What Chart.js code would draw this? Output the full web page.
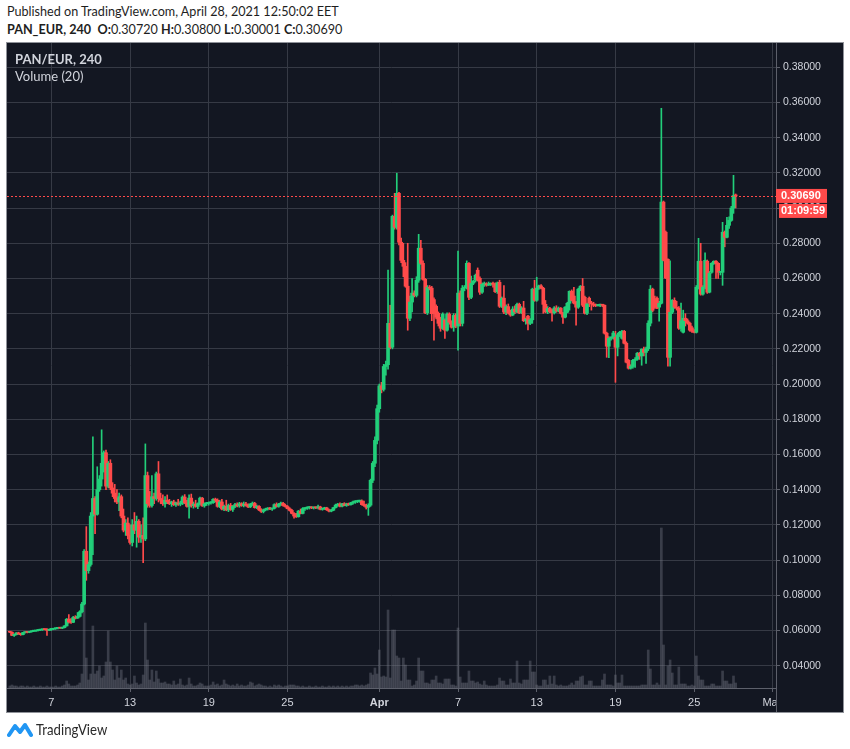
<!DOCTYPE html>
<html>
<head>
<meta charset="utf-8">
<script src="https://cdn.jsdelivr.net/npm/chart.js@4/dist/chart.umd.min.js"></script>
<style>
  body { margin: 0; width: 850px; height: 749px; background: #fff; position: relative; overflow: hidden; font-family: Lato, "Liberation Sans", sans-serif; }
  #chart { position: absolute; left: 0; top: 0; }
  .hdr { position: absolute; left: 7px; font-size: 14px; color: #1e1e1e; white-space: nowrap; transform-origin: left top; transform: scaleX(0.9); }
  .legend { position: absolute; left: 15px; font-size: 13px; color: #d1d4dc; white-space: nowrap; }
  #brand { position: absolute; left: 7px; top: 720px; display: flex; align-items: center; }
  #brand span { font-size: 15px; color: #2a2a2a; margin-left: 3px; transform-origin: left center; transform: scaleX(0.88); display: inline-block; }
</style>
</head>
<body>
<div class="hdr" style="top:2px">Published on TradingView.com, April 28, 2021 12:50:02 EET</div>
<div class="hdr" style="top:20px"><b>PAN_EUR, 240</b>&nbsp; <b>O:</b>0.30720 <b>H:</b>0.30800 <b>L:</b>0.30001 <b>C:</b>0.30690</div>
<canvas id="chart" width="850" height="749"></canvas>
<div class="legend" style="top:51px"><b>PAN/EUR, 240</b></div>
<div class="legend" style="top:68px">Volume (20)</div>
<div id="brand">
  <svg width="26" height="18" viewBox="0 0 26 18">
    <path d="M2 15 L8 6 L13 12 L18 5 L24 15" fill="none" stroke="#2196f3" stroke-width="4" stroke-linejoin="round" stroke-linecap="round"/>
  </svg>
  <span>TradingView</span>
</div>
<script>
// Nến 4 giờ, nến đầu tiên lúc 3/3 20:00 (tính theo số ngày kể từ 1/3)
const firstBarDay = 2 + 20 / 24;
const barDays = 4 / 24;

const opens = [
  0.0592,
  0.0590,0.0572,0.0576,0.0586,0.0580,0.0576,
  0.0588,0.0590,0.0589,0.0593,0.0596,0.0597,
  0.0600,0.0602,0.0604,0.0606,0.0605,0.0601,
  0.0606,0.0607,0.0610,0.0612,0.0614,0.0613,
  0.0616,0.0626,0.0664,0.0648,0.0646,0.0674,
  0.0670,0.0680,0.0706,0.0750,0.1050,0.0940,
  0.0975,0.1250,0.1350,0.1260,0.1400,0.1460,
  0.1550,0.1610,0.1420,0.1550,0.1410,0.1380,
  0.1350,0.1330,0.1360,0.1250,0.1170,0.1210,
  0.1140,0.1100,0.1200,0.1170,0.1220,0.1130,
  0.1140,0.1120,0.1480,0.1320,0.1310,0.1360,
  0.1350,0.1490,0.1350,0.1340,0.1320,0.1340,
  0.1330,0.1320,0.1330,0.1315,0.1325,0.1318,
  0.1322,0.1358,0.1325,0.1305,0.1352,0.1310,
  0.1318,0.1305,0.1320,0.1352,0.1308,0.1320,
  0.1322,0.1325,0.1326,0.1345,0.1340,0.1305,
  0.1330,0.1290,0.1305,0.1285,0.1310,0.1288,
  0.1305,0.1315,0.1308,0.1320,0.1310,0.1318,
  0.1312,0.1302,0.1318,0.1322,0.1298,0.1305,
  0.1285,0.1276,0.1285,0.1290,0.1293,0.1290,
  0.1294,0.1315,0.1305,0.1318,0.1322,0.1310,
  0.1304,0.1292,0.1282,0.1265,0.1250,0.1246,
  0.1278,0.1265,0.1292,0.1295,0.1298,0.1300,
  0.1296,0.1299,0.1297,0.1302,0.1288,0.1292,
  0.1296,0.1285,0.1278,0.1283,0.1298,0.1312,
  0.1318,0.1306,0.1320,0.1310,0.1318,0.1315,
  0.1325,0.1330,0.1332,0.1335,0.1336,0.1315,
  0.1310,0.1300,0.1312,0.1453,0.1550,0.1680,
  // April
  0.1860,0.1990,0.1970,0.2100,0.2110,0.2345,
  0.2209,0.2953,0.2891,0.3084,0.2806,0.2703,
  0.2669,0.2556,0.2374,0.2466,0.2517,0.2504,
  0.2590,0.2772,0.2686,0.2595,0.2405,0.2550,
  0.2545,0.2480,0.2442,0.2402,0.2374,0.2317,
  0.2363,0.2306,0.2397,0.2351,0.2323,0.2390,
  0.2330,0.2517,0.2345,0.2545,0.2550,0.2686,
  0.2493,0.2573,0.2590,0.2647,0.2601,0.2522,
  0.2567,0.2570,0.2562,0.2567,0.2568,0.2567,0.2525,
  0.2578,0.2442,0.2488,0.2409,0.2440,0.2403,
  0.2392,0.2426,0.2410,0.2453,0.2405,0.2432,
  0.2360,0.2386,0.2345,0.2365,0.2539,0.2476,
  0.2545,0.2558,0.2545,0.2453,0.2410,0.2430,
  0.2420,0.2405,0.2432,0.2415,0.2431,0.2402,
  0.2380,0.2408,0.2459,0.2527,0.2500,0.2465,
  0.2437,0.2533,0.2556,0.2493,0.2402,0.2488,
  0.2460,0.2455,0.2448,0.2446,0.2448,0.2450,
  0.2448,0.2289,0.2215,0.2260,0.2262,0.2266,
  0.2209,0.2280,0.2260,0.2300,0.2232,0.2135,
  0.2090,0.2100,0.2135,0.2141,0.2175,0.2160,
  0.2198,0.2180,0.2200,0.2346,0.2539,0.2480,
  0.2488,0.2437,0.2459,0.3034,0.2863,0.2709,
  0.2152,0.2408,0.2476,0.2437,0.2431,0.2317,
  0.2294,0.2374,0.2360,0.2346,0.2320,0.2300,
  0.2294,0.2550,0.2698,0.2511,0.2550,0.2698,
  0.2522,0.2635,0.2686,0.2698,0.2686,0.2635,
  0.2635,0.2863,0.2834,0.2902,0.2930,0.3000,
  0.3072
];

const highs = [
  0.0594,
  0.0592,0.0580,0.0588,0.0590,0.0584,0.0590,
  0.0592,0.0594,0.0595,0.0597,0.0599,0.0601,
  0.0604,0.0606,0.0608,0.0609,0.0610,0.0608,
  0.0609,0.0612,0.0614,0.0616,0.0618,0.0618,
  0.0628,0.0668,0.0690,0.0668,0.0680,0.0684,
  0.0702,0.0712,0.0760,0.1060,0.1190,0.0990,
  0.1270,0.1700,0.1360,0.1530,0.1480,0.1740,
  0.1620,0.1625,0.1560,0.1570,0.1440,0.1430,
  0.1400,0.1380,0.1370,0.1290,0.1230,0.1240,
  0.1200,0.1230,0.1270,0.1250,0.1230,0.1200,
  0.1240,0.1660,0.1500,0.1390,0.1480,0.1380,
  0.1500,0.1560,0.1380,0.1370,0.1360,0.1370,
  0.1345,0.1335,0.1340,0.1330,0.1345,0.1335,
  0.1365,0.1372,0.1340,0.1370,0.1375,0.1330,
  0.1340,0.1325,0.1358,0.1356,0.1325,0.1328,
  0.1330,0.1332,0.1350,0.1352,0.1348,0.1340,
  0.1345,0.1312,0.1340,0.1318,0.1322,0.1310,
  0.1322,0.1325,0.1328,0.1326,0.1330,0.1328,
  0.1320,0.1322,0.1330,0.1328,0.1312,0.1310,
  0.1292,0.1290,0.1295,0.1298,0.1300,0.1296,
  0.1320,0.1325,0.1322,0.1330,0.1328,0.1318,
  0.1310,0.1298,0.1288,0.1270,0.1265,0.1282,
  0.1290,0.1298,0.1298,0.1302,0.1305,0.1304,
  0.1302,0.1303,0.1312,0.1306,0.1296,0.1300,
  0.1300,0.1290,0.1288,0.1300,0.1318,0.1322,
  0.1325,0.1322,0.1326,0.1323,0.1324,0.1328,
  0.1335,0.1338,0.1340,0.1340,0.1342,0.1335,
  0.1318,0.1320,0.1460,0.1560,0.1700,0.1880,
  // April
  0.2000,0.2010,0.2112,0.2130,0.2647,0.2448,
  0.2960,0.3084,0.3198,0.3090,0.2830,0.2800,
  0.2690,0.2800,0.2500,0.2600,0.2530,0.2610,
  0.2851,0.2817,0.2700,0.2600,0.2560,0.2560,
  0.2555,0.2490,0.2450,0.2410,0.2380,0.2405,
  0.2370,0.2405,0.2405,0.2360,0.2400,0.2400,
  0.2755,0.2530,0.2560,0.2560,0.2700,0.2690,
  0.2613,0.2590,0.2625,0.2660,0.2610,0.2575,
  0.2580,0.2576,0.2580,0.2575,0.2580,0.2575,0.2580,
  0.2590,0.2495,0.2560,0.2450,0.2455,0.2420,
  0.2440,0.2445,0.2460,0.2460,0.2440,0.2470,
  0.2375,0.2390,0.2372,0.2545,0.2590,0.2607,
  0.2562,0.2565,0.2550,0.2475,0.2440,0.2436,
  0.2425,0.2440,0.2445,0.2438,0.2435,0.2408,
  0.2440,0.2465,0.2530,0.2535,0.2550,0.2470,
  0.2545,0.2560,0.2600,0.2500,0.2460,0.2495,
  0.2470,0.2465,0.2455,0.2452,0.2455,0.2452,
  0.2450,0.2295,0.2270,0.2270,0.2300,0.2300,
  0.2290,0.2300,0.2305,0.2305,0.2240,0.2140,
  0.2110,0.2140,0.2150,0.2180,0.2180,0.2200,
  0.2210,0.2210,0.2360,0.2560,0.2545,0.2500,
  0.2495,0.2470,0.3567,0.3040,0.2870,0.2712,
  0.2700,0.2480,0.2490,0.2470,0.2440,0.2460,
  0.2420,0.2400,0.2370,0.2352,0.2330,0.2310,
  0.2560,0.2828,0.2800,0.2560,0.2745,0.2705,
  0.2640,0.2690,0.2700,0.2702,0.2690,0.2640,
  0.2919,0.2870,0.2947,0.2950,0.3010,0.3186,
  0.3080
];

const lows = [
  0.0588,
  0.0570,0.0566,0.0574,0.0578,0.0572,0.0575,
  0.0584,0.0586,0.0587,0.0590,0.0593,0.0595,
  0.0597,0.0599,0.0600,0.0603,0.0572,0.0599,
  0.0600,0.0604,0.0606,0.0609,0.0611,0.0610,
  0.0614,0.0624,0.0642,0.0640,0.0644,0.0665,
  0.0668,0.0676,0.0700,0.0745,0.0885,0.0925,
  0.0965,0.1030,0.1150,0.1255,0.1390,0.1420,
  0.1500,0.1400,0.1410,0.1400,0.1360,0.1330,
  0.1320,0.1280,0.1240,0.1160,0.1140,0.1120,
  0.1090,0.1080,0.1150,0.1073,0.1100,0.1100,
  0.0985,0.1110,0.1300,0.1300,0.1300,0.1320,
  0.1340,0.1330,0.1320,0.1310,0.1300,0.1320,
  0.1315,0.1305,0.1310,0.1305,0.1310,0.1308,
  0.1315,0.1320,0.1300,0.1238,0.1300,0.1295,
  0.1300,0.1292,0.1315,0.1305,0.1300,0.1310,
  0.1312,0.1318,0.1322,0.1330,0.1300,0.1298,
  0.1285,0.1280,0.1280,0.1275,0.1282,0.1276,
  0.1298,0.1302,0.1300,0.1305,0.1302,0.1306,
  0.1298,0.1298,0.1310,0.1295,0.1292,0.1280,
  0.1270,0.1268,0.1280,0.1284,0.1286,0.1282,
  0.1290,0.1300,0.1300,0.1310,0.1306,0.1300,
  0.1290,0.1278,0.1262,0.1238,0.1242,0.1244,
  0.1262,0.1262,0.1282,0.1288,0.1290,0.1292,
  0.1290,0.1292,0.1290,0.1285,0.1283,0.1287,
  0.1282,0.1274,0.1274,0.1280,0.1295,0.1305,
  0.1302,0.1302,0.1308,0.1305,0.1310,0.1312,
  0.1318,0.1322,0.1326,0.1328,0.1312,0.1305,
  0.1290,0.1254,0.1305,0.1440,0.1530,0.1660,
  // April
  0.1840,0.1950,0.1960,0.2050,0.2084,0.2200,
  0.2200,0.2880,0.2880,0.2790,0.2690,0.2610,
  0.2550,0.2306,0.2360,0.2410,0.2495,0.2495,
  0.2578,0.2680,0.2590,0.2400,0.2395,0.2535,
  0.2360,0.2249,0.2370,0.2330,0.2300,0.2310,
  0.2260,0.2300,0.2340,0.2318,0.2300,0.2320,
  0.2192,0.2330,0.2330,0.2530,0.2540,0.2480,
  0.2485,0.2565,0.2580,0.2585,0.2510,0.2515,
  0.2555,0.2556,0.2560,0.2560,0.2550,0.2520,0.2515,
  0.2435,0.2435,0.2400,0.2395,0.2398,0.2385,
  0.2388,0.2400,0.2405,0.2400,0.2400,0.2355,
  0.2340,0.2307,0.2338,0.2345,0.2470,0.2470,
  0.2538,0.2540,0.2402,0.2405,0.2400,0.2405,
  0.2357,0.2398,0.2408,0.2410,0.2398,0.2345,
  0.2376,0.2405,0.2420,0.2472,0.2455,0.2334,
  0.2430,0.2530,0.2440,0.2398,0.2395,0.2440,
  0.2420,0.2440,0.2440,0.2443,0.2440,0.2440,
  0.2284,0.2152,0.2150,0.2250,0.2255,0.2010,
  0.2160,0.2270,0.2255,0.2228,0.2120,0.2085,
  0.2085,0.2090,0.2095,0.2135,0.2140,0.2107,
  0.2160,0.2118,0.2190,0.2330,0.2410,0.2430,
  0.2428,0.2357,0.2455,0.2700,0.2600,0.2101,
  0.2101,0.2400,0.2430,0.2420,0.2310,0.2300,
  0.2290,0.2330,0.2340,0.2300,0.2294,0.2290,
  0.2290,0.2540,0.2505,0.2505,0.2540,0.2515,
  0.2518,0.2630,0.2680,0.2600,0.2600,0.2620,
  0.2561,0.2780,0.2830,0.2885,0.2925,0.2970,
  0.3001
];

const closes = [
  0.0590,
  0.0572,0.0576,0.0586,0.0580,0.0576,0.0588,
  0.0590,0.0589,0.0593,0.0596,0.0597,0.0600,
  0.0602,0.0604,0.0606,0.0605,0.0601,0.0606,
  0.0607,0.0610,0.0612,0.0614,0.0613,0.0616,
  0.0626,0.0664,0.0648,0.0646,0.0674,0.0670,
  0.0680,0.0706,0.0750,0.1050,0.0940,0.0975,
  0.1250,0.1350,0.1260,0.1400,0.1460,0.1550,
  0.1610,0.1420,0.1550,0.1410,0.1380,0.1350,
  0.1330,0.1360,0.1250,0.1170,0.1210,0.1140,
  0.1100,0.1200,0.1170,0.1220,0.1130,0.1140,
  0.1120,0.1480,0.1320,0.1310,0.1360,0.1350,
  0.1490,0.1350,0.1340,0.1320,0.1340,0.1330,
  0.1320,0.1330,0.1315,0.1325,0.1318,0.1322,
  0.1358,0.1325,0.1305,0.1352,0.1310,0.1318,
  0.1305,0.1320,0.1352,0.1308,0.1320,0.1322,
  0.1325,0.1326,0.1345,0.1340,0.1305,0.1330,
  0.1290,0.1305,0.1285,0.1310,0.1288,0.1305,
  0.1315,0.1308,0.1320,0.1310,0.1318,0.1312,
  0.1302,0.1318,0.1322,0.1298,0.1305,0.1285,
  0.1276,0.1285,0.1290,0.1293,0.1290,0.1294,
  0.1315,0.1305,0.1318,0.1322,0.1310,0.1304,
  0.1292,0.1282,0.1265,0.1250,0.1246,0.1278,
  0.1265,0.1292,0.1295,0.1298,0.1300,0.1296,
  0.1299,0.1297,0.1302,0.1288,0.1292,0.1296,
  0.1285,0.1278,0.1283,0.1298,0.1312,0.1318,
  0.1306,0.1320,0.1310,0.1318,0.1315,0.1325,
  0.1330,0.1332,0.1335,0.1336,0.1315,0.1310,
  0.1300,0.1312,0.1453,0.1550,0.1680,0.1860,
  // April
  0.1990,0.1970,0.2100,0.2110,0.2345,0.2209,
  0.2953,0.2891,0.3084,0.2806,0.2703,0.2669,
  0.2556,0.2374,0.2466,0.2517,0.2504,0.2590,
  0.2772,0.2686,0.2595,0.2405,0.2550,0.2545,
  0.2400,0.2400,0.2380,0.2345,0.2317,0.2397,
  0.2306,0.2397,0.2351,0.2323,0.2390,0.2330,
  0.2517,0.2345,0.2545,0.2550,0.2686,0.2493,
  0.2573,0.2585,0.2618,0.2590,0.2522,0.2567,
  0.2570,0.2562,0.2567,0.2568,0.2567,0.2525,0.2575,
  0.2442,0.2488,0.2409,0.2440,0.2403,0.2392,
  0.2426,0.2410,0.2453,0.2405,0.2432,0.2360,
  0.2368,0.2345,0.2365,0.2539,0.2476,0.2545,
  0.2558,0.2545,0.2453,0.2410,0.2430,0.2412,
  0.2405,0.2432,0.2415,0.2431,0.2402,0.2380,
  0.2437,0.2459,0.2527,0.2476,0.2460,0.2437,
  0.2539,0.2556,0.2448,0.2402,0.2455,0.2460,
  0.2455,0.2448,0.2446,0.2448,0.2450,0.2448,
  0.2289,0.2215,0.2260,0.2262,0.2290,0.2209,
  0.2280,0.2295,0.2300,0.2232,0.2124,0.2090,
  0.2100,0.2135,0.2141,0.2175,0.2160,0.2198,
  0.2180,0.2200,0.2346,0.2539,0.2419,0.2440,
  0.2431,0.2459,0.3034,0.2703,0.2602,0.2152,
  0.2408,0.2476,0.2437,0.2431,0.2317,0.2360,
  0.2374,0.2360,0.2346,0.2306,0.2300,0.2294,
  0.2550,0.2698,0.2511,0.2550,0.2703,0.2522,
  0.2630,0.2686,0.2698,0.2685,0.2635,0.2638,
  0.2863,0.2834,0.2902,0.2930,0.3000,0.3072,
  0.3069
];

// Khối lượng (đơn vị tương đối)
const volumes = [
  2,
  3,2,2,1,2,2,
  1,2,1,1,2,1,
  1,2,1,1,2,1,
  1,1,2,1,1,2,
  3,7,4,2,2,2,
  3,5,14,88,30,8,
  14,62,14,17,22,10,
  12,26,57,26,18,8,
  22,10,18,8,10,4,
  3,4,12,5,3,4,
  13,65,28,8,18,6,
  17,9,5,5,6,4,
  4,3,7,3,4,9,
  3,2,3,10,4,2,
  2,3,5,4,2,2,
  2,3,6,3,4,2,
  3,8,4,3,2,3,
  2,4,2,3,2,2,
  3,6,5,2,3,4,
  3,2,2,1,2,1,
  3,2,3,2,1,2,
  2,3,3,3,2,2,
  1,2,1,1,2,1,
  1,2,1,1,2,1,
  1,2,1,2,1,2,
  1,2,1,2,1,2,
  2,3,3,2,3,2,
  3,4,15,13,20,14,
  // April
  38,11,12,11,78,10,
  58,58,32,30,7,30,
  23,8,8,2,3,7,
  30,17,17,5,5,4,
  8,8,12,5,5,4,
  9,9,9,3,3,2,
  60,11,5,5,5,17,
  7,7,5,6,4,3,
  7,3,2,2,2,2,3,
  10,7,7,3,3,9,
  5,5,27,5,4,8,
  8,8,27,16,16,3,
  2,2,8,8,3,12,
  4,12,3,2,3,2,
  2,2,3,5,3,7,
  7,11,12,3,3,7,
  7,2,2,2,2,8,
  14,3,3,3,2,13,
  5,5,13,2,2,2,
  2,2,2,2,2,3,
  3,3,38,19,3,3,
  5,3,160,43,3,22,
  28,15,3,3,21,4,
  4,4,2,2,3,2,
  32,12,8,8,2,2,
  2,4,4,2,2,2,
  17,7,7,4,4,12,
  5
];

const priceTicks = [0.04, 0.06, 0.08, 0.10, 0.12, 0.14, 0.16, 0.18, 0.20, 0.22, 0.24, 0.26, 0.28, 0.30, 0.32, 0.34, 0.36, 0.38];
const dayTicks = [6, 12, 18, 24, 31, 37, 43, 49, 55, 61];
const dayLabels = ['7', '13', '19', '25', 'Apr', '7', '13', '19', '25', 'May'];
const countdown = '01:09:59';

const UP = '#22cf7a';
const DOWN = '#ff4a4a';
const PANEL_BG = '#131722';
const GRID = '#363a45';
const AXIS_LINE = '#5d606b';
const TEXT = '#d1d4dc';

const barX = opens.map((o, i) => firstBarDay + i * barDays);
const wickData = barX.map((x, i) => ({ x: x, y: [lows[i], highs[i]] }));
const bodyData = barX.map((x, i) => ({ x: x, y: [opens[i], closes[i]] }));
const volumeData = barX.map((x, i) => ({ x: x, y: volumes[i] }));

function candleColor(ctx) {
    const i = ctx.dataIndex;
    return closes[i] >= opens[i] ? UP : DOWN;
}

// Nền tối của khung biểu đồ, đường giá hiện tại và nhãn giá
const panelPlugin = {
    id: 'panel',
    beforeDraw(chart) {
        const { ctx, chartArea, scales } = chart;
        ctx.save();
        ctx.fillStyle = PANEL_BG;
        ctx.fillRect(chartArea.left, chartArea.top, scales.y.right - chartArea.left, scales.x.bottom - chartArea.top);
        ctx.restore();
    },
    afterDatasetsDraw(chart) {
        const { ctx, chartArea, scales } = chart;
        const y = Math.round(scales.y.getPixelForValue(closes[closes.length - 1])) + 0.5;
        ctx.save();
        ctx.strokeStyle = DOWN;
        ctx.lineWidth = 1;
        ctx.setLineDash([2, 2]);
        ctx.beginPath();
        ctx.moveTo(chartArea.left, y);
        ctx.lineTo(chartArea.right, y);
        ctx.stroke();
        ctx.restore();
    },
    afterDraw(chart) {
        const { ctx, chartArea, scales } = chart;
        const axisX = chartArea.right;
        ctx.save();
        // che phần chữ "May" tràn sang cột giá
        ctx.fillStyle = PANEL_BG;
        ctx.fillRect(axisX + 1, chartArea.bottom + 1, scales.y.right - axisX - 1, scales.x.bottom - chartArea.bottom - 1);
        ctx.strokeStyle = AXIS_LINE;
        ctx.lineWidth = 1;
        ctx.beginPath();
        ctx.moveTo(axisX + 0.5, chartArea.top);
        ctx.lineTo(axisX + 0.5, scales.x.bottom);
        ctx.stroke();
        // viền khung
        ctx.strokeStyle = '#8f9299';
        ctx.strokeRect(chartArea.left - 0.5, chartArea.top - 0.5, scales.y.right - chartArea.left + 1, scales.x.bottom - chartArea.top + 1);

        // nhãn giá cuối và thời gian còn lại
        const last = closes[closes.length - 1];
        const y = scales.y.getPixelForValue(last);
        ctx.fillStyle = DOWN;
        ctx.fillRect(axisX, y - 7, 51, 14);
        ctx.fillRect(axisX + 3, y + 8, 48, 14);
        ctx.fillStyle = '#ffffff';
        ctx.font = 'bold 11px "Liberation Sans", Arial, sans-serif';
        ctx.textBaseline = 'middle';
        ctx.fillText(last.toFixed(5), axisX + 5, y + 0.5);
        ctx.fillText(countdown, axisX + 5, y + 15.5);
        ctx.restore();
    }
};

Chart.defaults.font.family = '"Liberation Sans", Arial, sans-serif';

function initChart() {
    new Chart(document.getElementById('chart'), {
        type: 'bar',
        data: {
            datasets: [
                {
                    label: 'Volume',
                    data: volumeData,
                    yAxisID: 'yv',
                    backgroundColor: 'rgba(120, 124, 136, 0.38)',
                    barThickness: 2,
                    grouped: false,
                    order: 3
                },
                {
                    label: 'Wick',
                    data: wickData,
                    backgroundColor: candleColor,
                    barThickness: 1,
                    grouped: false,
                    order: 2
                },
                {
                    label: 'Body',
                    data: bodyData,
                    backgroundColor: candleColor,
                    barThickness: 3,
                    minBarLength: 1,
                    grouped: false,
                    order: 1
                }
            ]
        },
        options: {
            responsive: false,
            animation: false,
            devicePixelRatio: 1,
            layout: { padding: { left: 7, top: 43, right: 7, bottom: 37 } },
            plugins: { legend: { display: false }, tooltip: { enabled: false } },
            scales: {
                x: {
                    type: 'linear',
                    min: 2.62,
                    max: 61.24,
                    offset: false,
                    afterBuildTicks: axis => { axis.ticks = dayTicks.map(v => ({ value: v })); },
                    afterFit: axis => { axis.height = 24; },
                    grid: { color: GRID, offset: false, tickLength: 4, tickColor: AXIS_LINE },
                    border: { color: AXIS_LINE },
                    ticks: {
                        autoSkip: false,
                        maxRotation: 0,
                        padding: 4,
                        color: TEXT,
                        font: ctx => ({ size: 11, weight: dayLabels[ctx.index] === 'Apr' ? 'bold' : 'normal' }),
                        callback: (v, i) => dayLabels[i]
                    }
                },
                y: {
                    position: 'right',
                    min: 0.0273,
                    max: 0.3938,
                    afterBuildTicks: axis => { axis.ticks = priceTicks.map(v => ({ value: v })); },
                    afterFit: axis => { axis.width = 67; },
                    grid: { color: GRID, tickLength: 4, tickColor: AXIS_LINE },
                    border: { color: AXIS_LINE },
                    ticks: {
                        padding: 3,
                        color: TEXT,
                        font: { size: 10.5 },
                        callback: v => v.toFixed(5)
                    }
                },
                yv: {
                    display: false,
                    min: 0,
                    max: 645
                }
            }
        },
        plugins: [panelPlugin]
    });
}

window.onload = initChart;
</script>
</body>
</html>
